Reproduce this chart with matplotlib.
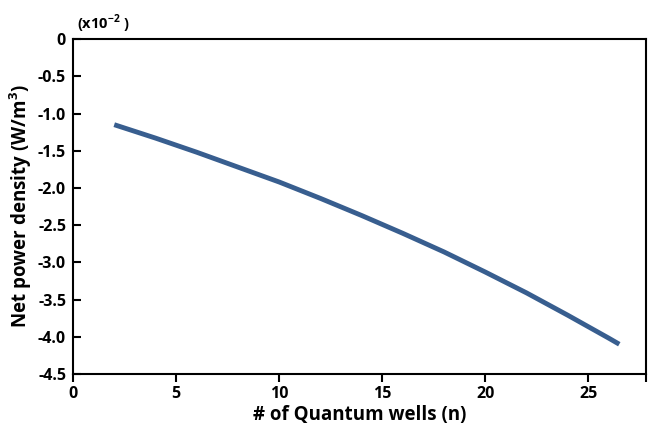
import numpy as np
import matplotlib.pyplot as plt

# curve (values in units of 1e-2 W/m^3)
wells = [2, 4, 6, 8, 10, 12, 14, 16, 18, 20, 22, 24, 26, 26.5]
power = [-1.15, -1.33, -1.52, -1.72, -1.92, -2.14, -2.37, -2.61, -2.86,
         -3.13, -3.41, -3.71, -4.02, -4.10]

xticks = [0, 5, 10, 15, 20, 25]
yticks = [0, -0.5, -1.0, -1.5, -2.0, -2.5, -3.0, -3.5, -4.0, -4.5]
ylabels = ["0", "-0.5", "-1.0", "-1.5", "-2.0", "-2.5", "-3.0", "-3.5", "-4.0", "-4.5"]

plt.rcParams['font.family'] = ['Open Sans', 'DejaVu Sans']
plt.rcParams['font.weight'] = 'bold'
plt.rcParams['mathtext.fontset'] = 'custom'
plt.rcParams['mathtext.bf'] = 'Open Sans:bold'
plt.rcParams['mathtext.rm'] = 'Open Sans:bold'

fig = plt.figure(figsize=(6.49, 4.25), dpi=100)
ax = fig.add_axes([0.1125, 0.12, 0.883, 0.788])

ax.plot(wells, power, color='#385E8F', lw=3.5, solid_capstyle='butt')

ax.set_xlim(0, 27.8)
ax.set_ylim(-4.5, 0)
ax.set_xticks(xticks)
ax.set_xticks([27.8], minor=True)
ax.set_yticks(yticks)
ax.set_yticklabels(ylabels)
ax.tick_params(axis='x', direction='out', length=6, width=1.5, labelsize=11.5, pad=3)
ax.tick_params(axis='x', which='minor', direction='out', length=6, width=1.5)
ax.tick_params(axis='y', direction='in', length=6, width=1.5, labelsize=11.5, pad=5)
for lab in ax.get_xticklabels() + ax.get_yticklabels():
    lab.set_fontweight('bold')
for s in ax.spines.values():
    s.set_linewidth(1.5)

ax.set_xlabel("# of Quantum wells (n)", fontsize=13.5, fontweight='bold', labelpad=2)
ax.set_ylabel("Net power density (W/m$^\\mathbf{3}$)", fontsize=13.5, fontweight='bold', labelpad=3)
fig.text(0.118, 0.945, "(x10$^\\mathbf{-2}$ )", fontsize=10.5, fontweight='bold', va='center')

fig.savefig("out.png", dpi=100)
